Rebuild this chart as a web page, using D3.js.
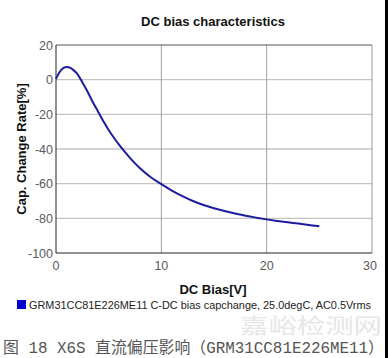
<!DOCTYPE html>
<html><head><meta charset="utf-8">
<script src="https://cdn.jsdelivr.net/npm/d3@7"></script>
<style>body{margin:0;background:#fff}svg{display:block}</style>
</head><body><svg id="c" width="388" height="358"></svg>
<script>
const biasV = [0,0.3,0.6,1.0,1.3,1.6,2.0,2.5,3.0,3.5,4.0,4.5,5.0,5.5,6.0,6.5,7.0,7.5,8.0,9.0,10,11,12,13,14,15,16,17,18,19,20,21,22,23,24,25];
const capChange = [0.5,4,6.3,7.3,7,5.8,3.5,-1.5,-7,-13,-18.5,-24,-29,-33.5,-37.6,-41.4,-45,-48.3,-51.3,-56.3,-60.3,-64,-67.2,-70,-72.3,-74.2,-75.8,-77.2,-78.5,-79.6,-80.6,-81.5,-82.3,-83.0,-83.8,-84.6];
const xTicks = [0,10,20,30];
const yTicks = [20,0,-20,-40,-60,-80,-100];
const title = "DC bias characteristics";
const xLabel = "DC Bias[V]";
const yLabel = "Cap. Change Rate[%]";
const legendText = "GRM31CC81E226ME11 C-DC bias capchange, 25.0degC, AC0.5Vrms";
const caption = "图 18 X6S 直流偏压影响（GRM31CC81E226ME11）";

const svg = d3.select("#c");
const L=56,R=372,T=45,B=253;
const x = d3.scaleLinear().domain([0,30]).range([L,R]);
const y = d3.scaleLinear().domain([-100,20]).range([B,T]);

svg.append("rect").attr("x",385).attr("y",0).attr("width",3).attr("height",358).attr("fill","#000");

// grid
svg.append("g").selectAll("line").data(yTicks.filter(v=>v>-100&&v<20)).join("line")
 .attr("x1",L).attr("x2",R).attr("y1",d=>y(d)).attr("y2",d=>y(d)).attr("stroke","#c4c4c4").attr("stroke-width",1.3);
svg.append("g").selectAll("line").data(xTicks.filter(v=>v>0&&v<30)).join("line")
 .attr("y1",T).attr("y2",B).attr("x1",d=>x(d)).attr("x2",d=>x(d)).attr("stroke","#a0a0a0").attr("stroke-width",1);

// borders
svg.append("line").attr("x1",L).attr("x2",R).attr("y1",T).attr("y2",T).attr("stroke","#555");
svg.append("line").attr("x1",R).attr("x2",R).attr("y1",T).attr("y2",B).attr("stroke","#999");
svg.append("line").attr("x1",L).attr("x2",L).attr("y1",T).attr("y2",B).attr("stroke","#222");
svg.append("line").attr("x1",L).attr("x2",R).attr("y1",B).attr("y2",B).attr("stroke","#222");

const ff = "Liberation Sans, Arial, sans-serif";
svg.append("g").selectAll("text").data(yTicks).join("text")
 .attr("x",L-3).attr("y",d=>y(d)+4.5).attr("text-anchor","end").attr("font-size",12.5)
 .attr("font-family",ff).attr("fill","#5a5a5a").text(d=>d);
svg.append("g").selectAll("text").data(xTicks).join("text")
 .attr("x",d=>x(d)-(d===30?2:0)).attr("y",270).attr("text-anchor","middle").attr("font-size",12.5)
 .attr("font-family",ff).attr("fill","#5a5a5a").text(d=>d);

svg.append("text").attr("x",213).attr("y",26).attr("text-anchor","middle").attr("font-size",13)
 .attr("font-weight","bold").attr("font-family",ff).attr("fill","#111").text(title);
svg.append("text").attr("x",213).attr("y",294).attr("text-anchor","middle").attr("font-size",13)
 .attr("font-weight","bold").attr("font-family",ff).attr("fill","#111").text(xLabel);
svg.append("text").attr("transform","translate(26,149) rotate(-90)").attr("text-anchor","middle").attr("font-size",13)
 .attr("font-weight","bold").attr("font-family",ff).attr("fill","#111").text(yLabel);

// line
const line = d3.line().x((d,i)=>x(biasV[i])).y(d=>y(d)).curve(d3.curveMonotoneX);
svg.append("path").datum(capChange).attr("d",line).attr("fill","none").attr("stroke","#1c1ca0").attr("stroke-width",2);

// watermark
svg.append("text").attr("x",240).attr("y",333).attr("font-size",21).attr("font-family","Noto Sans CJK SC")
 .attr("fill","#e6e6e6").attr("textLength",142).attr("lengthAdjust","spacingAndGlyphs").text("嘉峪检测网");

// legend
svg.append("rect").attr("x",17).attr("y",300).attr("width",9).attr("height",9).attr("fill","#0000d0");
svg.append("text").attr("x",29).attr("y",308.5).attr("font-size",10.8).attr("font-family",ff)
 .attr("fill","#222").attr("textLength",342).attr("lengthAdjust","spacingAndGlyphs").text(legendText);

// caption
svg.append("text").attr("x",3).attr("y",353).attr("font-size",16).attr("font-family","Liberation Mono, Noto Sans CJK SC, monospace")
 .attr("fill","#555").attr("textLength",381).attr("lengthAdjust","spacingAndGlyphs").text(caption);
</script></body></html>
